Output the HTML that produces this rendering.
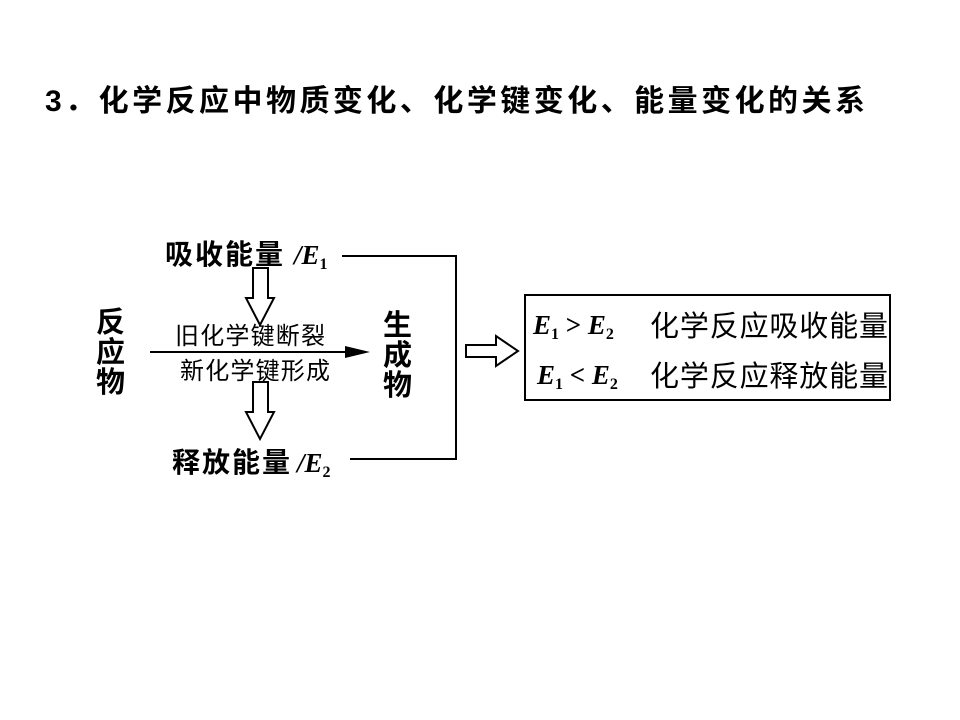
<!DOCTYPE html>
<html><head><meta charset="utf-8"><style>
html,body{margin:0;padding:0;background:#fff;}
svg{display:block;}
.cj{font-family:"Liberation Sans","Noto Sans CJK SC",sans-serif;}
.e{font-family:"Liberation Serif",serif;font-style:italic;font-weight:bold;}
</style></head><body>
<svg width="960" height="720" viewBox="0 0 960 720" xmlns="http://www.w3.org/2000/svg">
<text x="45" y="111" class="cj" font-size="30" font-weight="bold" textLength="820" lengthAdjust="spacing">3．化学反应中物质变化、化学键变化、能量变化的关系</text>

<text x="165" y="264" class="cj" font-size="28" font-weight="bold" textLength="118">吸收能量</text>
<text x="294" y="264" class="e" font-size="27">/E<tspan font-size="16" font-style="normal" dy="5">1</tspan></text>
<text x="172" y="472" class="cj" font-size="28" font-weight="bold" textLength="118">释放能量</text>
<text x="297" y="472" class="e" font-size="27">/E<tspan font-size="16" font-style="normal" dy="5">2</tspan></text>

<polyline points="342,256 456,256 456,459 350,459" fill="none" stroke="#000" stroke-width="2"/>

<polygon points="253,268 268,268 268,298 274,298 260,325 246,298 253,298" fill="#fff" stroke="#000" stroke-width="2"/>
<polygon points="253,382 268,382 268,412 274,412 260,439 246,412 253,412" fill="#fff" stroke="#000" stroke-width="2"/>

<text class="cj" font-size="29" font-weight="bold"><tspan x="96" y="332">反</tspan><tspan x="96" y="362">应</tspan><tspan x="96" y="392">物</tspan></text>
<text class="cj" font-size="29" font-weight="bold"><tspan x="383" y="335">生</tspan><tspan x="383" y="365">成</tspan><tspan x="383" y="395">物</tspan></text>

<line x1="150" y1="352" x2="350" y2="352" stroke="#000" stroke-width="2"/>
<polygon points="345,346 370,352 345,358" fill="#000"/>
<text x="175" y="344" class="cj" font-size="24" textLength="150">旧化学键断裂</text>
<text x="180" y="379" class="cj" font-size="24" textLength="150">新化学键形成</text>

<polygon points="466,345 496,345 496,336 518,351 496,366 496,357 466,357" fill="#fff" stroke="#000" stroke-width="2"/>

<rect x="525" y="295" width="365" height="105" fill="none" stroke="#000" stroke-width="2"/>
<text x="533" y="334" class="e" font-size="27">E<tspan font-size="16" font-style="normal" dy="5">1</tspan><tspan dy="-5" font-style="normal"> &gt; </tspan>E<tspan font-size="16" font-style="normal" dy="5">2</tspan></text>
<text x="650" y="336" class="cj" font-size="29" textLength="238">化学反应吸收能量</text>
<text x="537" y="384" class="e" font-size="27">E<tspan font-size="16" font-style="normal" dy="5">1</tspan><tspan dy="-5" font-style="normal"> &lt; </tspan>E<tspan font-size="16" font-style="normal" dy="5">2</tspan></text>
<text x="650" y="386" class="cj" font-size="29" textLength="238">化学反应释放能量</text>
</svg>
</body></html>
